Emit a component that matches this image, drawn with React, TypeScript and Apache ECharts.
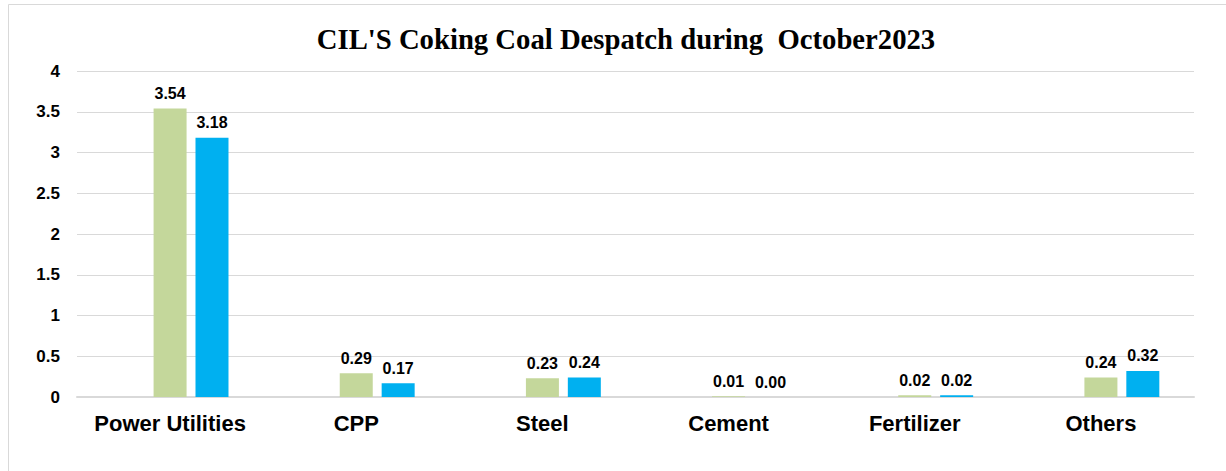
import React, { useEffect, useRef } from "react";
import * as echarts from "echarts";

const categories = ["Power Utilities", "CPP", "Steel", "Cement", "Fertilizer", "Others"];
const seriesA = [3.54, 0.29, 0.23, 0.01, 0.02, 0.24];
const seriesB = [3.18, 0.17, 0.24, 0.0, 0.02, 0.32];
const emptySeries = [null, null, null, null, null, null];

export default function App() {
  const ref = useRef<HTMLDivElement>(null);
  useEffect(() => {
    if (!ref.current) return;
    const chart = echarts.init(ref.current, null, { renderer: "svg" });
    const labelStyle = {
      show: true,
      position: "top" as const,
      distance: 7,
      fontFamily: "Liberation Sans, Arial, sans-serif",
      fontWeight: "bold" as const,
      fontSize: 16,
      color: "#000",
      formatter: (p: any) => Number(p.value).toFixed(2),
    };
    chart.setOption({
      animation: false,
      backgroundColor: "#fff",
      graphic: [
        {
          type: "rect",
          shape: { x: 8.5, y: 4.5, width: 1240, height: 480 },
          style: { fill: "none", stroke: "#d9d9d9", lineWidth: 1 },
          silent: true,
        },
      ],
      title: {
        text: "CIL'S Coking Coal Despatch during  October2023",
        left: 621,
        textAlign: "center",
        top: 19,
        textStyle: {
          fontFamily: "Liberation Serif, Times New Roman, serif",
          fontWeight: "bold",
          fontSize: 28.7,
          color: "#000",
        },
      },
      grid: { left: 77, right: 32, top: 71, bottom: 74, containLabel: false },
      xAxis: {
        type: "category",
        data: categories,
        axisTick: { show: false },
        axisLine: { lineStyle: { color: "#d9d9d9", width: 2 } },
        axisLabel: {
          interval: 0,
          margin: 15,
          fontFamily: "Liberation Sans, Arial, sans-serif",
          fontWeight: "bold",
          fontSize: 22,
          color: "#000",
        },
      },
      yAxis: {
        type: "value",
        min: 0,
        max: 4,
        interval: 0.5,
        axisLine: { show: false },
        axisTick: { show: false },
        splitLine: { lineStyle: { color: "#d9d9d9", width: 1 } },
        axisLabel: {
          margin: 17,
          fontFamily: "Liberation Sans, Arial, sans-serif",
          fontWeight: "bold",
          fontSize: 17,
          color: "#000",
        },
      },
      series: [
        {
          name: "blank",
          type: "bar",
          data: emptySeries,
          barWidth: 33,
          barGap: "27%",
        },
        {
          name: "Series A",
          type: "bar",
          data: seriesA,
          barWidth: 33,
          barGap: "27%",
          itemStyle: { color: "#c4d79b" },
          label: labelStyle,
        },
        {
          name: "Series B",
          type: "bar",
          data: seriesB,
          barWidth: 33,
          barGap: "27%",
          itemStyle: { color: "#00b0f0" },
          label: labelStyle,
        },
      ],
    });
    return () => chart.dispose();
  }, []);
  return (
    <div
      ref={ref}
      style={{ position: "absolute", left: 0, top: 0, width: 1226, height: 471 }}
    />
  );
}
